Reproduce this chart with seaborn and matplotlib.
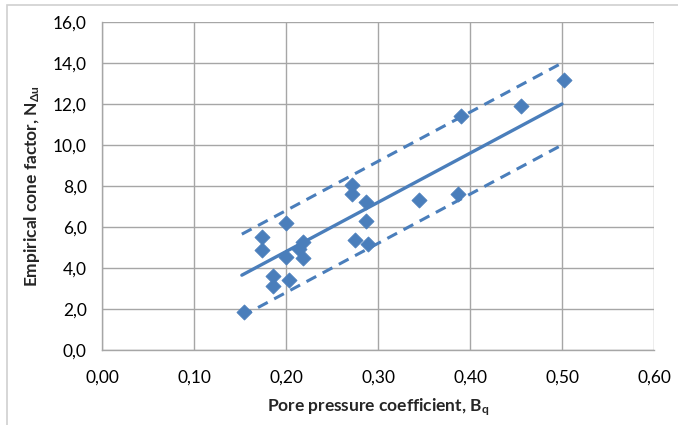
import matplotlib
matplotlib.use("Agg")
import matplotlib.pyplot as plt
import numpy as np
import pandas as pd
import seaborn as sns
from matplotlib.patches import Rectangle
from matplotlib.ticker import FuncFormatter

# measured points (pore pressure coefficient vs cone factor)
bq = [0.154, 0.174, 0.174, 0.186, 0.186, 0.200, 0.200, 0.203, 0.214, 0.219,
      0.219, 0.272, 0.272, 0.287, 0.287, 0.275, 0.289, 0.345, 0.387, 0.390,
      0.455, 0.502]
n_du = [1.83, 5.50, 4.90, 3.62, 3.12, 6.20, 4.52, 3.42, 4.93, 5.28,
        4.47, 8.03, 7.60, 7.20, 6.30, 5.35, 5.17, 7.30, 7.60, 11.40,
        11.90, 13.15]

# trend line and +/- bounds (end points)
line_x = [0.152, 0.500]
fit_y = [3.65, 12.00]
upper_y = [5.65, 14.00]
lower_y = [1.65, 10.00]

x_ticks = [0.0, 0.1, 0.2, 0.3, 0.4, 0.5, 0.6]
y_ticks = [0, 2, 4, 6, 8, 10, 12, 14, 16]

BLUE = "#4A7EBB"
GRID = "#A6A6A6"

sns.set_style("white")
plt.rcParams["font.family"] = ["Lato", "DejaVu Sans"]
plt.rcParams["mathtext.fontset"] = "custom"
plt.rcParams["mathtext.rm"] = "Lato"
plt.rcParams["mathtext.bf"] = "Lato:bold"

df = pd.DataFrame({"bq": bq, "n": n_du})

fig = plt.figure(figsize=(6.78, 4.25), dpi=100)
fig.patches.append(Rectangle((7 / 678, -0.1), 1.2, 1 - 5 / 425 + 0.1,
                             transform=fig.transFigure, fill=False,
                             edgecolor="#D0D0D0", lw=1.2))
ax = fig.add_axes([102 / 678, 1 - 350 / 425, 552 / 678, 328 / 425])

ax.plot(line_x, upper_y, color=BLUE, lw=2.2, ls=(0, (3.6, 2.4)), zorder=3)
ax.plot(line_x, lower_y, color=BLUE, lw=2.2, ls=(0, (3.6, 2.4)), zorder=3)
ax.plot(line_x, fit_y, color=BLUE, lw=2.4, zorder=3)
sns.scatterplot(data=df, x="bq", y="n", marker="D", s=60, color=BLUE,
                edgecolor=BLUE, linewidth=0.5, ax=ax, zorder=4)

ax.set_xlim(0, 0.6)
ax.set_ylim(0, 16)
ax.set_xticks(x_ticks)
ax.set_yticks(y_ticks)
ax.xaxis.set_major_formatter(FuncFormatter(lambda v, _: f"{v:.2f}".replace(".", ",")))
ax.yaxis.set_major_formatter(FuncFormatter(lambda v, _: f"{v:.1f}".replace(".", ",")))
ax.grid(True, color=GRID, lw=1.0)
ax.set_axisbelow(True)
for side in ("top", "right"):
    ax.spines[side].set_visible(False)
for side in ("left", "bottom"):
    ax.spines[side].set_color(GRID)
    ax.spines[side].set_linewidth(1.0)
ax.tick_params(axis="both", direction="out", length=5, width=1.0, color=GRID,
               labelsize=12.5, labelcolor="#000000")
ax.tick_params(axis="x", pad=9)
ax.tick_params(axis="y", pad=6)

ax.set_xlabel(r"Pore pressure coefficient, $\mathbf{B_q}$", fontsize=12.5,
              fontweight="bold", labelpad=8)
ax.set_ylabel(r"Empirical cone factor, $\mathbf{N_{\Delta u}}$", fontsize=12.5,
              fontweight="bold", labelpad=8)

fig.savefig("out.png", dpi=100)
